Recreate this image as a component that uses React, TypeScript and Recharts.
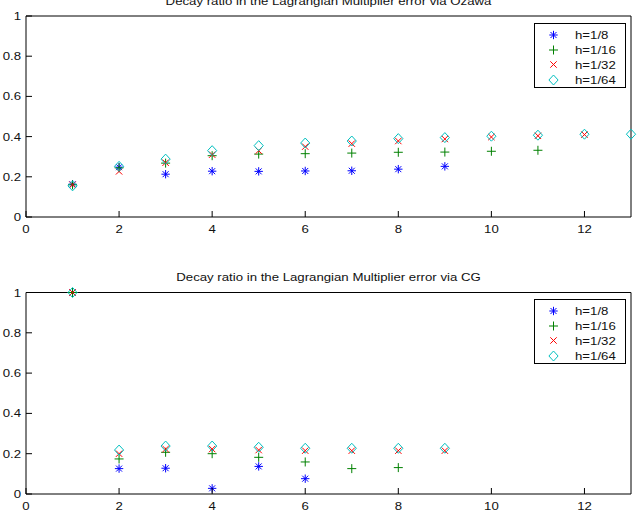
import React from 'react';
import { ScatterChart, Scatter, XAxis, YAxis, Legend } from 'recharts';

const FONT = '"Liberation Sans", Arial, Helvetica, sans-serif';
const FONT_SIZE = 11.2;
const STRETCH = 1.18;
const PAGE_W = 637;
const PAGE_H = 523;

const xTicks = [0, 2, 4, 6, 8, 10, 12];
const yTicks = [0, 0.2, 0.4, 0.6, 0.8, 1];

const seriesNames = ['h=1/8', 'h=1/16', 'h=1/32', 'h=1/64'];
const seriesColors = ['#0000ff', '#008000', '#ff0000', '#00bfbf'];
const seriesMarkers = ['star', 'plus', 'cross', 'diamond'];

// Decay ratios per iteration (iteration k = index + 1), Uzawa solver
const ozawaH8 = [0.163, 0.248, 0.213, 0.228, 0.227, 0.229, 0.23, 0.238, 0.252];
const ozawaH16 = [0.16, 0.245, 0.268, 0.305, 0.313, 0.315, 0.318, 0.322, 0.323, 0.327, 0.332];
const ozawaH32 = [0.16, 0.227, 0.27, 0.31, 0.33, 0.35, 0.365, 0.378, 0.388, 0.398, 0.404, 0.41];
const ozawaH64 = [0.155, 0.252, 0.288, 0.33, 0.355, 0.368, 0.378, 0.39, 0.395, 0.402, 0.407, 0.412, 0.412];

// Decay ratios per iteration, CG solver
const cgH8 = [1, 0.126, 0.128, 0.028, 0.137, 0.076];
const cgH16 = [1, 0.174, 0.207, 0.2, 0.182, 0.159, 0.126, 0.131];
const cgH32 = [1, 0.2, 0.223, 0.223, 0.218, 0.215, 0.215, 0.215, 0.215];
const cgH64 = [1, 0.218, 0.238, 0.238, 0.232, 0.227, 0.227, 0.227, 0.227];

const toPoints = (vals: number[]) => vals.map((y, i) => ({ x: i + 1, y }));

const TICK_LEN = 6;

// Text in the figure's wide sans face
function Txt({
  x,
  y,
  anchor = 'start',
  children,
}: {
  x: number;
  y: number;
  anchor?: 'start' | 'middle' | 'end';
  children: React.ReactNode;
}) {
  return (
    <text
      transform={`translate(${x},${y}) scale(${STRETCH},1)`}
      x={0}
      y={0}
      textAnchor={anchor}
      fontSize={FONT_SIZE}
      fontFamily={FONT}
      fill="#111"
    >
      {children}
    </text>
  );
}

function Seg({ x1, y1, x2, y2, color }: { x1: number; y1: number; x2: number; y2: number; color: string }) {
  return <line x1={x1} y1={y1} x2={x2} y2={y2} stroke={color} strokeWidth={1} />;
}

function Marker({ kind, cx, cy, color }: { kind: string; cx: number; cy: number; color: string }) {
  if (cx == null || cy == null || isNaN(cx) || isNaN(cy)) return null;
  if (kind === 'star') {
    const s = 4.2;
    const d = 3;
    return (
      <g>
        <Seg x1={cx - s} y1={cy} x2={cx + s} y2={cy} color={color} />
        <Seg x1={cx} y1={cy - s} x2={cx} y2={cy + s} color={color} />
        <Seg x1={cx - d} y1={cy - d} x2={cx + d} y2={cy + d} color={color} />
        <Seg x1={cx - d} y1={cy + d} x2={cx + d} y2={cy - d} color={color} />
      </g>
    );
  }
  if (kind === 'plus') {
    const s = 4.5;
    return (
      <g>
        <Seg x1={cx - s} y1={cy} x2={cx + s} y2={cy} color={color} />
        <Seg x1={cx} y1={cy - s} x2={cx} y2={cy + s} color={color} />
      </g>
    );
  }
  if (kind === 'cross') {
    const d = 3.2;
    return (
      <g>
        <Seg x1={cx - d} y1={cy - d} x2={cx + d} y2={cy + d} color={color} />
        <Seg x1={cx - d} y1={cy + d} x2={cx + d} y2={cy - d} color={color} />
      </g>
    );
  }
  const w = 4.6;
  const h = 5;
  return (
    <polygon
      stroke={color}
      strokeWidth={1}
      fill="none"
      points={`${cx},${cy - h} ${cx + w},${cy} ${cx},${cy + h} ${cx - w},${cy}`}
    />
  );
}

const fmt = (v: number) => String(v);

function BottomTick(props: any) {
  const { x, y, payload } = props;
  return (
    <g>
      <line x1={x} y1={y} x2={x} y2={y - TICK_LEN} stroke="#000" strokeWidth={1} />
      <Txt x={x} y={y + 16.3} anchor="middle">
        {fmt(payload.value)}
      </Txt>
    </g>
  );
}

function TopTick(props: any) {
  const { x, y } = props;
  return <line x1={x} y1={y} x2={x} y2={y + TICK_LEN} stroke="#000" strokeWidth={1} />;
}

function LeftTick(props: any) {
  const { x, y, payload } = props;
  return (
    <g>
      <line x1={x} y1={y} x2={x + TICK_LEN} y2={y} stroke="#000" strokeWidth={1} />
      <Txt x={x - 5} y={y + 4} anchor="end">
        {fmt(payload.value)}
      </Txt>
    </g>
  );
}

function RightTick(props: any) {
  const { x, y } = props;
  return <line x1={x} y1={y} x2={x - TICK_LEN} y2={y} stroke="#000" strokeWidth={1} />;
}

function LegendBox() {
  const bw = 91;
  const bh = 64;
  const rows = [11.5, 26.5, 41, 56.5];
  return (
    <svg width={bw + 2} height={bh + 2} style={{ display: 'block', overflow: 'visible' }}>
      <rect x={0.5} y={0.5} width={bw} height={bh} fill="#fff" stroke="#000" strokeWidth={1} />
      {seriesNames.map((name, i) => (
        <g key={name}>
          <Marker kind={seriesMarkers[i]} cx={19.5} cy={rows[i] + 0.5} color={seriesColors[i]} />
          <Txt x={41} y={rows[i] + 4.5}>
            {name}
          </Txt>
        </g>
      ))}
    </svg>
  );
}

type PanelProps = {
  top: number;
  height: number;
  plotTop: number;
  plotBottom: number;
  series: number[][];
  legendTop: number;
};

// Sizes reserved by each axis; the plot box runs x 26..631 inside the page.
const LEFT_W = 20;
const RIGHT_W = 2;
const BOTTOM_H = 20;
const TOP_H = 2;

function Panel({ top, height, plotTop, plotBottom, series, legendTop }: PanelProps) {
  return (
    <div style={{ position: 'absolute', left: 0, top, width: PAGE_W, height }}>
      <ScatterChart
        width={PAGE_W}
        height={height}
        margin={{
          top: plotTop - top - TOP_H,
          right: PAGE_W - 631 - RIGHT_W,
          bottom: top + height - plotBottom - BOTTOM_H,
          left: 26 - LEFT_W,
        }}
      >
        <XAxis
          xAxisId="b"
          dataKey="x"
          type="number"
          domain={[0, 13]}
          ticks={xTicks}
          height={BOTTOM_H}
          tickSize={0}
          tickMargin={0}
          tickLine={false}
          axisLine={{ stroke: '#000', strokeWidth: 1 }}
          tick={<BottomTick />}
          interval={0}
        />
        <XAxis
          xAxisId="t"
          orientation="top"
          type="number"
          domain={[0, 13]}
          ticks={xTicks}
          height={TOP_H}
          tickSize={0}
          tickMargin={0}
          tickLine={false}
          axisLine={{ stroke: '#000', strokeWidth: 1 }}
          tick={<TopTick />}
          interval={0}
        />
        <YAxis
          yAxisId="l"
          dataKey="y"
          type="number"
          domain={[0, 1]}
          ticks={yTicks}
          width={LEFT_W}
          tickSize={0}
          tickMargin={0}
          tickLine={false}
          axisLine={{ stroke: '#000', strokeWidth: 1 }}
          tick={<LeftTick />}
          interval={0}
        />
        <YAxis
          yAxisId="r"
          orientation="right"
          type="number"
          domain={[0, 1]}
          ticks={yTicks}
          width={RIGHT_W}
          tickSize={0}
          tickMargin={0}
          tickLine={false}
          axisLine={{ stroke: '#000', strokeWidth: 1 }}
          tick={<RightTick />}
          interval={0}
        />
        {series.map((vals, i) => (
          <Scatter
            key={seriesNames[i]}
            name={seriesNames[i]}
            xAxisId="b"
            yAxisId="l"
            data={toPoints(vals)}
            fill={seriesColors[i]}
            isAnimationActive={false}
            shape={(p: any) => (
              <Marker kind={seriesMarkers[i]} cx={p.cx} cy={p.cy} color={seriesColors[i]} />
            )}
          />
        ))}
        <Legend
          layout="vertical"
          align="center"
          verticalAlign="middle"
          content={() => <LegendBox />}
          wrapperStyle={{ position: 'absolute', left: 534, top: legendTop - top, width: 93, height: 66 }}
        />
      </ScatterChart>
    </div>
  );
}

export default function App() {
  return (
    <div
      style={{
        position: 'absolute',
        left: 0,
        top: 0,
        width: PAGE_W,
        height: PAGE_H,
        background: '#fff',
        overflow: 'hidden',
      }}
    >
      <Panel
        top={0}
        height={245}
        plotTop={16}
        plotBottom={217}
        series={[ozawaH8, ozawaH16, ozawaH32, ozawaH64]}
        legendTop={22.5}
      />
      <Panel
        top={250}
        height={273}
        plotTop={292.5}
        plotBottom={494}
        series={[cgH8, cgH16, cgH32, cgH64]}
        legendTop={299}
      />
      <svg
        width={PAGE_W}
        height={PAGE_H}
        style={{ position: 'absolute', left: 0, top: 0, pointerEvents: 'none' }}
      >
        <Txt x={328.5} y={5} anchor="middle">
          Decay ratio in the Lagrangian Multiplier error via Ozawa
        </Txt>
        <Txt x={328.5} y={280.7} anchor="middle">
          Decay ratio in the Lagrangian Multiplier error via CG
        </Txt>
      </svg>
    </div>
  );
}
